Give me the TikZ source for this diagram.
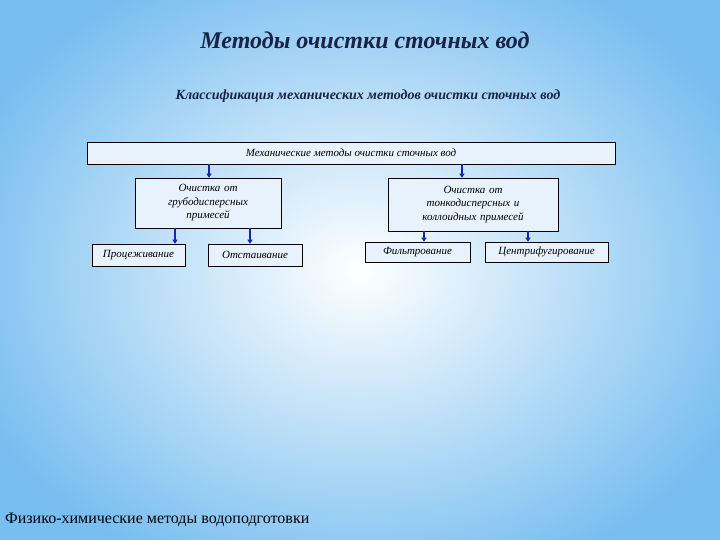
\documentclass[tikz,border=0pt]{standalone}
\usepackage{fontspec}
\setmainfont{Liberation Serif}
\usetikzlibrary{arrows.meta}
\definecolor{bgout}{RGB}{120,190,240}
\definecolor{boxfill}{RGB}{232,242,252}
\definecolor{arr}{RGB}{20,40,170}
\definecolor{titlec}{RGB}{25,35,70}
\begin{document}
\begin{tikzpicture}[x=1pt,y=-1pt,
  bx/.style={draw=black,line width=0.6pt,fill=boxfill,font=\itshape\fontsize{11}{13.5}\selectfont,align=center,inner sep=1pt},
  ar/.style={draw=arr,line width=1.2pt,-{Triangle[length=4pt,width=5pt]}}]
\useasboundingbox (0,0) rectangle (720,540);
\shade[inner color=white,outer color=bgout] (-60,-60) rectangle (780,600);
\node[font=\bfseries\itshape\fontsize{24}{28}\selectfont,text=titlec] (t) at (365,40) {Методы очистки сточных вод};
\node[font=\bfseries\itshape\fontsize{14}{16}\selectfont,text=titlec] (st) at (368,96) {Классификация механических методов очистки сточных вод};
\node[bx,minimum width=528,minimum height=22] (top) at (351,153) {Механические методы очистки сточных вод};
\node[bx,minimum width=146,minimum height=50,text width=140] (l) at (208,203) {Очистка от\\грубодисперсных\\примесей};
\node[bx,minimum width=170,minimum height=53,text width=164] (r) at (473,204.5) {Очистка от\\тонкодисперсных и\\коллоидных примесей};
\node[bx,minimum width=93,minimum height=22] (a) at (138.5,255) {Процеживание};
\node[bx,minimum width=94,minimum height=22] (b) at (255,255) {Отстаивание};
\node[bx,minimum width=105,minimum height=20] (c) at (417.5,252) {Фильтрование};
\node[bx,minimum width=123,minimum height=20] (d) at (546.5,252) {Центрифугирование};
\draw[ar] (top.south -| 209,0) -- (l.north -| 209,0);
\draw[ar] (top.south -| 462,0) -- (r.north -| 462,0);
\draw[ar] (l.south -| 175,0) -- (a.north -| 175,0);
\draw[ar] (l.south -| 250,0) -- (b.north -| 250,0);
\draw[ar] (r.south -| 424,0) -- (c.north -| 424,0);
\draw[ar] (r.south -| 528,0) -- (d.north -| 528,0);
\node[anchor=west,font=\fontsize{16}{18}\selectfont,inner sep=0] (f) at (5,520) {Физико-химические методы водоподготовки};
\end{tikzpicture}
\end{document}
